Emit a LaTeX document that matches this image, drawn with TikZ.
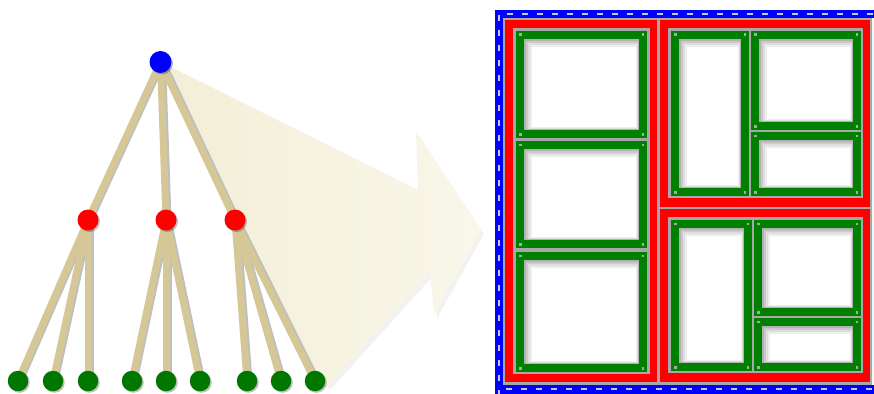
\documentclass[tikz,border=0pt]{standalone}
\usetikzlibrary{shadows}
\definecolor{edgetan}{RGB}{213,200,150}
\definecolor{beigeA}{RGB}{242,238,214}
\definecolor{beigeB}{RGB}{249,247,234}
\definecolor{frameblue}{RGB}{0,0,255}
\definecolor{framered}{RGB}{255,0,0}
\definecolor{framegreen}{RGB}{0,128,0}
\definecolor{framegray}{RGB}{168,168,168}
\definecolor{dashcol}{RGB}{200,200,228}
\definecolor{leafgreen}{RGB}{0,120,0}
\pgfdeclarelayer{back}
\pgfdeclarelayer{edges}
\pgfsetlayers{back,edges,main}
\newcommand\greenframe[4]{%
  \fill[framegreen] (#1,#2) rectangle (#3,#4);
  \fill[gray!60] ({#1+8},{#2+8}) rectangle ({#3-8},{#4-8});
  \fill[gray!42] ({#1+10},{#2+10}) rectangle ({#3-8.7},{#4-8.7});
  \fill[gray!26] ({#1+12},{#2+12}) rectangle ({#3-9.4},{#4-9.4});
  \fill[gray!13] ({#1+14},{#2+14}) rectangle ({#3-10},{#4-10});
  \fill[white] ({#1+16},{#2+16}) rectangle ({#3-11},{#4-11});
  \fill[framegray] ({#1+3},{#2+2.5}) rectangle ++(2.5,2.5);
  \fill[framegray] ({#3-5.5},{#2+2.5}) rectangle ++(2.5,2.5);
  \fill[framegray] ({#1+3},{#4-5}) rectangle ++(2.5,2.5);
  \fill[framegray] ({#3-5.5},{#4-5}) rectangle ++(2.5,2.5);
}
\tikzset{
  treedot/.style={circle, inner sep=0pt, minimum size=21pt,
    drop shadow={shadow xshift=1.5pt, shadow yshift=-1.5pt, opacity=0.25, fill=black}},
  rootdot/.style={treedot, fill=frameblue, minimum size=22pt},
  middot/.style={treedot, fill=framered},
  leafdot/.style={treedot, fill=leafgreen, minimum size=20.5pt},
  branch/.style={draw=edgetan, line width=7pt},
  branchshadow/.style={draw=gray!50, line width=6pt, transform canvas={xshift=2.5pt}},
}
\begin{document}
\begin{tikzpicture}[x=1pt,y=-1pt]
\useasboundingbox (0,0) rectangle (874,393);

% tree nodes
\node[rootdot] (root) at (160.5,62) {};
\node[middot] (m1) at (88,220) {};
\node[middot] (m2) at (166,220) {};
\node[middot] (m3) at (235,220) {};
\node[leafdot] (l1) at (18,381) {};
\node[leafdot] (l2) at (53,381) {};
\node[leafdot] (l3) at (88,381) {};
\node[leafdot] (l4) at (132,381) {};
\node[leafdot] (l5) at (166,381) {};
\node[leafdot] (l6) at (200,381) {};
\node[leafdot] (l7) at (247,381) {};
\node[leafdot] (l8) at (281,381) {};
\node[leafdot] (l9) at (315,381) {};

% background and big beige arrow
\begin{pgfonlayer}{back}
\fill[white] (0,0) rectangle (874,393);
\fill[gray!10] (root.center) ++(3,4) -- (421,194) -- (419,136) -- (484,234) -- (437,318) -- (433,276) -- (331,389) -- (318,385) -- cycle;
\shade[left color=beigeA, right color=beigeB] (root.center) -- (418,190) -- (416,132) -- (481,230) -- (434,314) -- (430,272) -- (328,386) -- (l9.center) -- (m3.center) -- cycle;
\end{pgfonlayer}

% branches
\begin{pgfonlayer}{edges}
\foreach \a/\b in {root/m1,root/m2,root/m3,m1/l1,m1/l2,m1/l3,m2/l4,m2/l5,m2/l6,m3/l7,m3/l8,m3/l9}{
  \draw[branchshadow] (\a.center) -- (\b.center);
}
\foreach \a/\b in {root/m1,root/m2,root/m3,m1/l1,m1/l2,m1/l3,m2/l4,m2/l5,m2/l6,m3/l7,m3/l8,m3/l9}{
  \draw[branch] (\a.center) -- (\b.center);
}
\end{pgfonlayer}

% frame layout
\begin{scope}
\clip (0,0) rectangle (874,393);
\fill[frameblue] (495,10) rectangle (890,400);
\fill[white!94!gray] (503,18) rectangle (890,385);
\fill[framegray] (503,18) rectangle (872,385);
\draw[dashcol, line width=2.5pt, dash pattern=on 6pt off 9pt] (499,396) -- (499,14) -- (890,14);
\draw[dashcol, line width=2.5pt, dash pattern=on 6pt off 9pt] (506,389) -- (890,389);
\fill[framered] (505,20) rectangle (657,382);
\fill[framered] (660,20) rectangle (870,207);
\fill[framered] (660,209) rectangle (870,382);
\fill[framegray] (513,28) rectangle (650,374);
\fill[framegray] (668,28) rectangle (863,198);
\fill[framegray] (668,217) rectangle (863,373);
\greenframe{516}{31}{647}{138}
\greenframe{516}{141}{647}{248}
\greenframe{516}{252}{647}{372}
\greenframe{671}{31}{749}{196}
\greenframe{751}{31}{861}{130}
\greenframe{751}{132}{861}{196}
\greenframe{671}{220}{752}{371}
\greenframe{754}{220}{861}{316}
\greenframe{754}{318}{861}{371}
\end{scope}
\end{tikzpicture}
\end{document}
